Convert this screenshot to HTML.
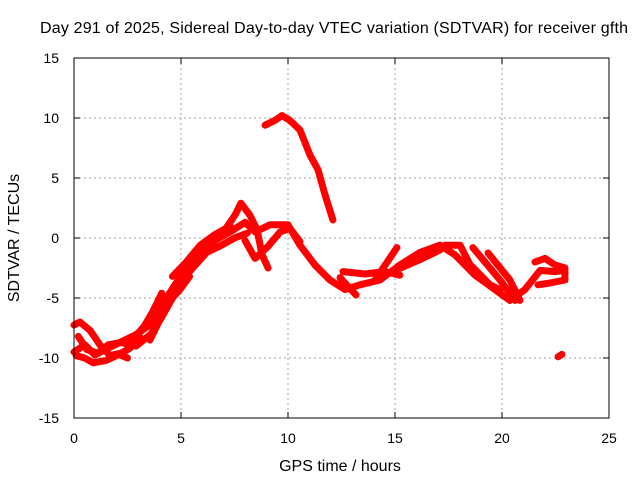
<!DOCTYPE html>
<html><head><meta charset="utf-8"><style>
body{margin:0;background:#fff}
svg text{font-family:"Liberation Sans",sans-serif;font-size:14px;fill:#000}
svg text.big{font-size:16px}
</style></head><body>
<svg id="chart" width="640" height="480" xmlns="http://www.w3.org/2000/svg">
<rect width="640" height="480" fill="#fff"/>
<text class="big" x="334" y="33" text-anchor="middle" textLength="588">Day 291 of 2025, Sidereal Day-to-day VTEC variation (SDTVAR) for receiver gfth</text>
<text class="big" x="340" y="471" text-anchor="middle">GPS time / hours</text>
<text class="big" transform="translate(19,238) rotate(-90)" text-anchor="middle">SDTVAR / TECUs</text>
<g id="grid"></g><g id="ticks"></g><g id="series"></g>
<rect x="74" y="58" width="535" height="360" fill="none" stroke="#000" stroke-width="1"/>
</svg>
<script>
const xTicks=[0,5,10,15,20,25];
const yTicks=[-15,-10,-5,0,5,10,15];
const trackMain=[[0,-9.5],[0.51,-8.9],[0.98,-9.75],[1.45,-9.3],[1.92,-8.9],[2.38,-8.5],[2.85,-8.1],[3.55,-7.25],[4.25,-5.2],[4.72,-3.9],[5.19,-2.7],[5.89,-1],[6.59,-0.2],[7.29,0.5],[7.99,1.3],[8.46,0.5],[9.16,1.1],[10,1.1],[10.56,-0.6],[11.26,-2.25],[11.96,-3.5],[12.66,-4.3],[13.36,-3.9],[14.3,-3.5],[15.23,-2.25],[16.17,-1.2],[17.1,-0.6],[17.8,-1.4],[18.74,-3.1],[19.67,-4.3],[20.37,-5.2],[21.07,-4.3],[21.78,-2.7],[22.48,-2.8],[22.94,-2.7]];
const trackMainB=[[2.9,-9],[3.6,-8],[4.1,-6.6],[4.6,-5],[5,-3.6],[5.6,-2.4],[6.2,-1.2],[6.9,-0.6],[7.5,0],[8.1,0.4]];
const trackMainC=[[4.6,-3.2],[5.2,-2.1],[5.9,-0.6],[6.6,0.3],[7.3,1]];
const trackStart=[[0,-7.25],[0.28,-7],[0.75,-7.7],[1.21,-8.9],[1.68,-9.8],[2.2,-9.6],[2.6,-9.2],[3.1,-8.3]];
const trackLow=[[0.1,-9.8],[0.5,-10],[0.9,-10.4],[1.5,-10.2],[2.1,-9.7],[2.5,-10]];
const trackBlob=[[0.2,-8.2],[0.6,-9.3],[1.1,-9.6],[1.6,-8.9],[2.2,-8.7],[2.6,-8.9]];
const trackRise=[[3.55,-8.5],[4.02,-6.8],[4.49,-5.2],[4.95,-4.3],[5.4,-3.2]];
const trackRise2=[[2.7,-8.6],[3.3,-7.3],[3.69,-6.1],[4.1,-4.6]];
const trackBump=[[7.06,0.7],[7.52,1.9],[7.8,2.9],[8.22,1.9],[8.55,0.7],[8.79,-1.4],[9.07,-2.5]];
const trackBump2=[[7.99,-0.2],[8.46,-1.7],[9.07,-0.7],[9.63,0.5],[10.09,0.8],[10.56,-0.3]];
const trackHigh=[[8.93,9.4],[9.39,9.8],[9.72,10.2],[10.09,9.8],[10.56,9],[11.03,6.9],[11.4,5.7],[11.73,3.6],[12.1,1.5]];
const trackDip=[[12.43,-3.3],[13.18,-4.75]];
const trackFlat=[[12.57,-2.8],[13.6,-3],[14.53,-2.8],[15.23,-3.1]];
const trackUp=[[14.07,-3.5],[15.09,-0.8]];
const trackMid=[[15,-2.7],[16.17,-1.8],[17.1,-1],[17.34,-0.6],[18.04,-0.6],[18.5,-2.2],[19.44,-3.9],[19.91,-4.3]];
const trackFall1=[[18.64,-0.8],[19.91,-3.5],[20.61,-5.2]];
const trackFall2=[[19.35,-1.25],[20.37,-3.5],[20.84,-5.2]];
const trackEnd=[[21.54,-2],[22.01,-1.7],[22.48,-2.25],[22.94,-2.5],[22.94,-3.5],[22.24,-3.75],[21.68,-3.9]];
const trackDot=[[22.62,-9.9],[22.8,-9.7]];
const tracks=[trackMain,trackMainB,trackMainC,trackStart,trackLow,trackBlob,trackRise,trackRise2,trackBump,trackBump2,trackHigh,trackDip,trackFlat,trackUp,trackMid,trackFall1,trackFall2,trackEnd,trackDot];
const trackNames=['main','main-b','main-c','start','low','blob','rise','rise2','bump','bump2','high','dip','flat','up','mid','fall1','fall2','end','dot'];
const NS='http://www.w3.org/2000/svg';
const X0=74,X1=609,Y0=418,Y1=58;
const sx=h=>X0+(h-0)/(25-0)*(X1-X0);
const sy=v=>Y0-(v+15)/30*(Y0-Y1);
const grid=document.getElementById('grid'),ticks=document.getElementById('ticks'),series=document.getElementById('series');
function mk(t,a,p){const e=document.createElementNS(NS,t);for(const k in a)e.setAttribute(k,a[k]);p.appendChild(e);return e;}
xTicks.forEach(t=>{const x=sx(t);
 if(t>0&&t<25){const g=mk('line',{x1:x,x2:x,y1:Y1,y2:Y0,stroke:'#a0a0a0','stroke-dasharray':'2,3'},grid);
 
 }
 const l=mk('line',{x1:x,x2:x,y1:Y0,y2:Y0-6,stroke:'#000'},ticks);
 
 
 mk('line',{x1:x,x2:x,y1:Y1,y2:Y1+6,stroke:'#000'},ticks);
 const tx=mk('text',{x:x,y:443,'text-anchor':'middle'},ticks);tx.textContent=t;
 
 });
yTicks.forEach(t=>{const y=sy(t);
 if(t>-15&&t<15){const g=mk('line',{x1:X0,x2:X1,y1:y,y2:y,stroke:'#a0a0a0','stroke-dasharray':'2,3'},grid);
 
 }
 const l=mk('line',{x1:X0,x2:X0+6,y1:y,y2:y,stroke:'#000'},ticks);
 
 
 mk('line',{x1:X1,x2:X1-6,y1:y,y2:y,stroke:'#000'},ticks);
 const tx=mk('text',{x:59,y:y+5,'text-anchor':'end'},ticks);tx.textContent=t;
 
 });
tracks.forEach((tr,i)=>{
 const p=mk('polyline',{points:tr.map(d=>sx(d[0])+','+sy(d[1])).join(' '),fill:'none',stroke:'#ff0000','stroke-width':7,'stroke-linejoin':'round','stroke-linecap':'round'},series);
 
 
});
</script>
</body></html>
